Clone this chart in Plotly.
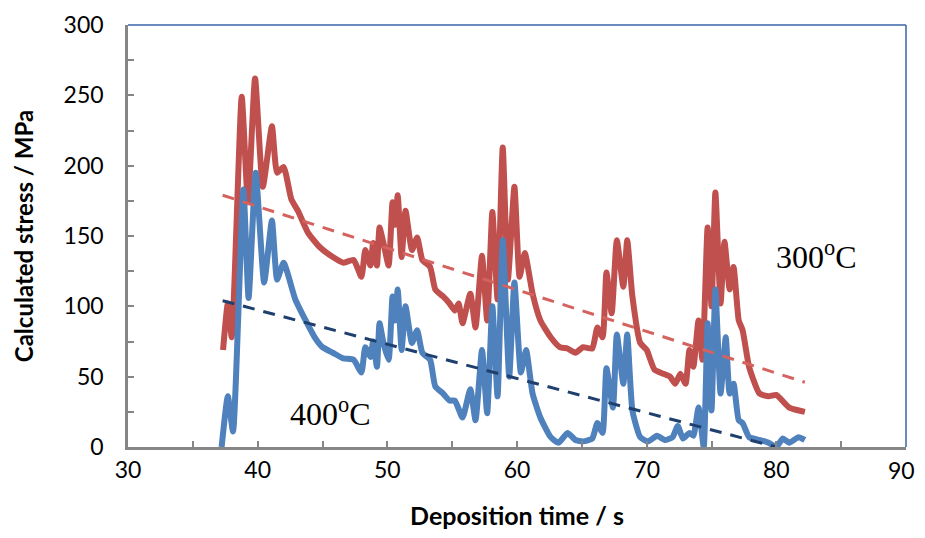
import plotly.graph_objects as go

# 300 °C series
red_x = [37.33, 37.7, 38.0, 38.77, 39.25, 39.8, 40.4, 41.1, 41.5, 42.0, 42.6, 43.1, 43.9,
         44.8, 45.8, 46.6, 47.4, 48.0, 48.3, 48.7, 48.9, 49.2, 49.4, 49.7, 50.1, 50.4, 50.6,
         50.8, 51.1, 51.4, 51.9, 52.3, 52.7, 53.3, 53.7, 54.3, 54.8, 55.2, 55.5, 55.8, 56.4,
         56.8, 57.3, 57.7, 58.1, 58.5, 58.9, 59.3, 59.8, 60.2, 60.6, 61.2, 61.8, 62.6, 63.3,
         63.9, 64.5, 65.1, 65.8, 66.2, 66.6, 66.9, 67.3, 67.7, 68.2, 68.5, 68.9, 69.5, 70.0,
         70.6, 71.3, 71.8, 72.2, 72.6, 73.0, 73.3, 73.6, 74.0, 74.3, 74.7, 75.0, 75.3, 75.7,
         76.0, 76.4, 76.7, 77.1, 77.4, 77.9, 78.7, 79.4, 80.0, 81.0, 82.2]
red_y = [69, 102, 78, 249, 174, 262, 185, 228, 195, 199, 176, 168, 152,
         142, 135, 131, 133, 121, 140, 129, 145, 129, 156, 145, 129, 174, 158,
         179, 135, 168, 140, 149, 133, 128, 112, 107, 102, 97, 102, 88, 109,
         85, 136, 90, 167, 105, 213, 119, 185, 121, 138, 109, 90, 78, 71,
         70, 67, 71, 70, 85, 78, 124, 95, 147, 114, 147, 107, 74, 69,
         55, 52, 50, 45, 52, 45, 69, 57, 90, 62, 156, 100, 181, 102,
         146, 112, 128, 90, 83, 57, 38, 36, 37, 28, 25]

# 400 °C series
blue_x = [37.22, 37.7, 38.1, 38.9, 39.3, 39.85, 40.5, 41.1, 41.5, 42.0, 42.9, 43.7, 44.4,
          45.0, 45.8, 46.6, 47.4, 48.0, 48.3, 48.7, 48.9, 49.2, 49.4, 49.7, 50.1, 50.4, 50.6,
          50.8, 51.1, 51.4, 51.9, 52.3, 52.7, 53.3, 53.7, 54.3, 54.8, 55.2, 55.8, 56.4, 56.8,
          57.3, 57.7, 58.1, 58.5, 58.9, 59.4, 59.8, 60.3, 60.7, 61.2, 61.8, 62.6, 63.2, 63.9,
          64.5, 65.1, 65.8, 66.2, 66.6, 66.9, 67.4, 67.7, 68.2, 68.5, 68.9, 69.5, 70.1, 70.8,
          71.4, 72.0, 72.4, 72.8, 73.3, 73.6, 74.0, 74.4, 74.7, 75.0, 75.3, 75.7, 76.1, 76.4,
          76.7, 77.1, 77.4, 77.9, 78.7, 79.4, 80.0, 80.5, 81.0, 81.7, 82.2]
blue_y = [0, 36, 11, 183, 106, 195, 117, 161, 119, 131, 105, 90, 78,
          71, 67, 63, 62, 53, 71, 64, 75, 57, 88, 74, 62, 107, 90,
          112, 69, 100, 74, 83, 67, 62, 43, 38, 33, 33, 21, 41, 19,
          69, 24, 100, 36, 147, 50, 117, 53, 69, 38, 21, 7, 3, 10,
          5, 4, 6, 17, 10, 56, 28, 80, 45, 80, 26, 7, 4, 8,
          5, 7, 15, 6, 10, 8, 28, 0, 88, 26, 112, 38, 78, 38,
          45, 19, 17, 7, 5, 3, 0, 6, 3, 7, 5]

# linear trend lines (endpoints)
red_trend_x = [37.3, 82.2]
red_trend_y = [179, 46]
blue_trend_x = [37.3, 80.0]
blue_trend_y = [104, 0]

x_ticks = [30, 40, 50, 60, 70, 80, 90]
y_ticks = [0, 50, 100, 150, 200, 250, 300]

RED = "#C0504D"
BLUE = "#4F81BD"
RED_DASH = "#D4635F"
BLUE_DASH = "#1F3F6E"
SANS = "Lato, Open Sans, sans-serif"
SERIF = "Liberation Serif, Times New Roman, serif"

fig = go.Figure()
fig.add_trace(go.Scatter(x=red_x, y=red_y, mode="lines",
                         line=dict(color=RED, width=6, shape="spline", smoothing=0.5),
                         showlegend=False, hoverinfo="skip"))
fig.add_trace(go.Scatter(x=blue_x, y=blue_y, mode="lines",
                         line=dict(color=BLUE, width=6, shape="spline", smoothing=0.5),
                         showlegend=False, hoverinfo="skip"))
fig.add_trace(go.Scatter(x=red_trend_x, y=red_trend_y, mode="lines",
                         line=dict(color=RED_DASH, width=3, dash="12px,9px"),
                         showlegend=False, hoverinfo="skip"))
fig.add_trace(go.Scatter(x=blue_trend_x, y=blue_trend_y, mode="lines",
                         line=dict(color=BLUE_DASH, width=3, dash="12px,9px"),
                         showlegend=False, hoverinfo="skip"))

axis_font = dict(family=SANS, size=23, color="#000000")

# last x tick label is drawn as a right-anchored annotation so it is not clipped
x_ticktext = [str(v) for v in x_ticks[:-1]] + [""]

# page body has an 8px margin on each side, so the figure is 16px smaller than the window
fig.update_layout(
    width=909, height=522,
    margin=dict(l=120, r=11, t=17, b=83),
    paper_bgcolor="white", plot_bgcolor="white",
    xaxis=dict(range=[30, 90], tickvals=x_ticks, ticktext=x_ticktext,
               automargin=False,
               ticks="inside", ticklen=6, tickwidth=1.5, tickcolor="#868686",
               showline=True, linecolor="#868686", linewidth=2.5,
               showgrid=False, zeroline=False, tickfont=axis_font,
               ticklabelstandoff=1,
               minor=dict(dtick=5, tick0=30, ticks="inside", ticklen=6, tickwidth=1.5,
                          tickcolor="#868686", showgrid=False),
               title=dict(text="<b>Deposition time / s</b>", standoff=30,
                          font=dict(family=SANS, size=25, color="#000000"))),
    yaxis=dict(range=[0, 300], tickvals=y_ticks, ticktext=[str(v) for v in y_ticks],
               automargin=False,
               ticks="inside", ticklen=6, tickwidth=1.5, tickcolor="#868686",
               showline=True, linecolor="#868686", linewidth=2.5,
               showgrid=False, zeroline=False, tickfont=axis_font,
               ticklabelstandoff=17,
               minor=dict(dtick=25, tick0=0, ticks="inside", ticklen=6, tickwidth=1.5,
                          tickcolor="#868686", showgrid=False),
               title=dict(text="<b>Calculated stress / MPa</b>", standoff=24,
                          font=dict(family=SANS, size=24, color="#000000"))),
    shapes=[
        dict(type="line", xref="paper", yref="paper", x0=0, x1=1, y0=1, y1=1,
             line=dict(color="#3A65A8", width=1.5)),
        dict(type="line", xref="paper", yref="paper", x0=1, x1=1, y0=0, y1=1,
             line=dict(color="#3A65A8", width=1.5)),
    ],
    annotations=[
        dict(x=83.1, y=136.5, xref="x", yref="y", text="300<sup>o</sup>C", showarrow=False,
             font=dict(family=SERIF, size=32, color="#000000")),
        dict(x=45.6, y=25, xref="x", yref="y", text="400<sup>o</sup>C", showarrow=False,
             font=dict(family=SERIF, size=32, color="#000000")),
        dict(x=1, y=0, xref="paper", yref="paper", text=str(x_ticks[-1]), showarrow=False,
             xanchor="right", yanchor="middle", xshift=10, yshift=-23, borderpad=0,
             font=axis_font),
    ],
)

fig.write_html("out.html")
